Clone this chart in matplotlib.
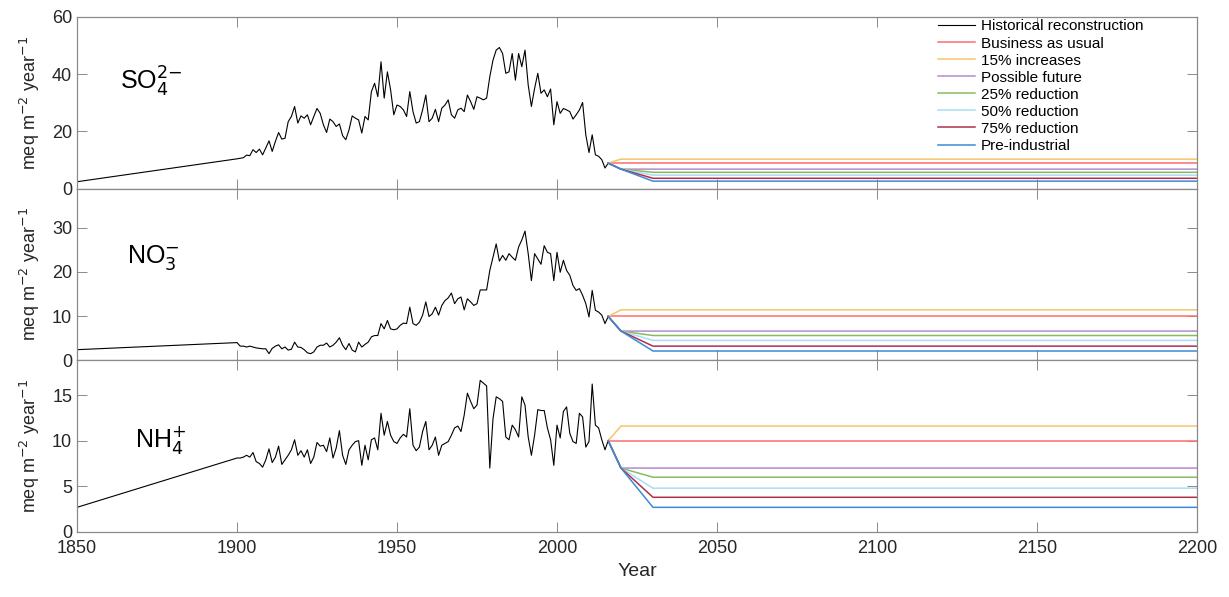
import numpy as np
import matplotlib
matplotlib.use("Agg")
from matplotlib import pyplot as plt

plt.rcParams['font.family'] = ['Liberation Sans', 'DejaVu Sans']

# historical reconstruction, 1850 start value + annual 1900-2016
start_year = 1850
years = np.arange(1900, 2017)

so4_1850 = 2.4
so4_hist = [10.4, 10.6, 10.8, 11.7, 11.5, 13.6, 12.6, 13.8, 11.8, 14.2,
            16.7, 13.0, 16.5, 19.6, 17.3, 17.6, 23.4, 25.2, 28.7, 22.9,
            25.4, 24.6, 25.8, 22.3, 25.2, 28.0, 26.3, 22.3, 19.6, 24.3,
            23.4, 21.7, 22.6, 18.5, 17.1, 20.5, 25.4, 24.6, 24.0, 19.4,
            25.2, 24.0, 33.9, 36.8, 32.1, 44.3, 31.6, 40.8, 34.5, 25.8,
            29.2, 28.7, 27.5, 25.2, 33.9, 26.9, 22.9, 23.4, 27.5, 32.7,
            23.4, 24.6, 27.7, 23.4, 28.1, 29.2, 31.0, 25.8, 24.6, 27.5,
            28.1, 26.9, 32.7, 30.4, 27.7, 32.1, 31.6, 31.0, 31.6, 39.1,
            44.9, 48.4, 49.3, 47.2, 40.3, 40.8, 47.2, 37.9, 47.2, 42.6,
            48.4, 36.2, 28.7, 35.0, 40.3, 33.3, 34.5, 32.1, 34.8, 22.3,
            30.4, 26.3, 28.0, 27.5, 26.9, 24.3, 25.8, 27.5, 30.1, 18.8,
            12.6, 18.8, 11.8, 11.3, 10.1, 7.2, 8.9]

no3_1850 = 2.4
no3_hist = [4.0, 3.2, 3.2, 3.0, 3.2, 3.0, 2.8, 2.7, 2.6, 2.6,
            1.5, 2.7, 3.2, 3.5, 2.6, 3.0, 2.3, 2.5, 4.1, 3.0,
            2.9, 2.4, 1.7, 1.5, 1.9, 3.0, 3.4, 3.4, 3.9, 3.0,
            3.4, 4.1, 5.1, 3.4, 2.4, 3.8, 2.3, 1.9, 4.1, 3.0,
            3.6, 4.1, 5.3, 5.6, 5.6, 8.3, 7.1, 9.0, 7.1, 6.9,
            7.1, 7.9, 8.4, 8.3, 12.0, 8.3, 7.9, 8.6, 10.2, 13.2,
            9.9, 10.5, 12.0, 10.2, 12.4, 13.5, 14.1, 15.2, 12.8, 13.9,
            14.3, 11.4, 13.9, 13.2, 12.4, 12.8, 15.9, 15.9, 15.9, 20.3,
            23.3, 26.3, 22.4, 23.7, 22.6, 24.1, 23.3, 22.6, 25.6, 27.2,
            29.2, 24.1, 18.0, 24.1, 22.9, 21.7, 25.9, 24.4, 24.1, 18.0,
            24.4, 19.9, 22.6, 20.3, 19.2, 16.9, 15.8, 16.2, 14.7, 12.8,
            9.8, 15.8, 11.3, 10.9, 10.2, 8.3, 9.9]

nh4_1850 = 2.7
nh4_hist = [8.1, 8.1, 8.2, 8.4, 8.2, 8.7, 7.7, 7.5, 7.1, 7.9,
            9.1, 7.6, 8.2, 9.4, 7.4, 7.9, 8.4, 9.0, 10.1, 8.4,
            8.9, 8.2, 9.0, 7.5, 8.2, 9.8, 9.4, 9.5, 8.8, 10.3,
            8.1, 9.2, 11.1, 8.4, 7.4, 9.0, 9.5, 9.9, 10.0, 7.3,
            9.5, 7.9, 10.1, 10.3, 9.0, 13.0, 10.6, 12.1, 10.6, 9.9,
            9.7, 10.3, 10.7, 10.4, 13.5, 9.5, 8.9, 9.3, 11.0, 12.1,
            9.0, 9.5, 10.4, 8.4, 9.5, 9.7, 9.9, 10.6, 11.4, 11.6,
            11.0, 12.8, 15.2, 14.3, 13.5, 13.9, 16.6, 16.3, 16.0, 7.0,
            12.4, 14.8, 14.6, 14.3, 10.4, 10.1, 11.7, 11.2, 10.4, 14.8,
            13.9, 10.4, 8.4, 10.6, 13.4, 13.3, 13.3, 11.4, 10.1, 7.3,
            11.7, 10.3, 13.2, 13.7, 10.8, 9.9, 9.7, 13.0, 12.6, 9.3,
            9.9, 16.2, 11.7, 11.4, 10.1, 9.0, 10.0]

# future scenarios: values at 2016, 2020, 2030, 2200
scen_years = [2016, 2020, 2030, 2200]
scen_names = ["Business as usual", "15% increases", "Possible future",
              "25% reduction", "50% reduction", "75% reduction", "Pre-industrial"]
scen_colors = ["#ff6e6e", "#f6c46a", "#b48ad0", "#86bd5c", "#a9dcf5", "#b0304a", "#3a8ad8"]

so4_scen = [[8.9, 8.9, 8.9, 8.9],
            [8.9, 10.3, 10.3, 10.3],
            [8.9, 6.8, 6.8, 6.8],
            [8.9, 6.8, 5.7, 5.7],
            [8.9, 6.8, 4.7, 4.7],
            [8.9, 6.8, 3.6, 3.6],
            [8.9, 6.8, 2.6, 2.6]]
no3_scen = [[9.9, 9.9, 9.9, 9.9],
            [9.9, 11.4, 11.4, 11.4],
            [9.9, 6.6, 6.6, 6.6],
            [9.9, 6.6, 5.6, 5.6],
            [9.9, 6.6, 4.5, 4.5],
            [9.9, 6.6, 3.2, 3.2],
            [9.9, 6.6, 2.1, 2.1]]
nh4_scen = [[10.0, 10.0, 10.0, 10.0],
            [10.0, 11.6, 11.6, 11.6],
            [10.0, 7.0, 7.0, 7.0],
            [10.0, 7.0, 6.0, 6.0],
            [10.0, 7.0, 4.8, 4.8],
            [10.0, 7.0, 3.8, 3.8],
            [10.0, 7.0, 2.7, 2.7]]

ions = [r"SO$_4^{2\mathrm{-}}$", r"NO$_3^{\mathrm{-}}$", r"NH$_4^{+}$"]
ion_pos = [(0.038, 0.62), (0.045, 0.6), (0.052, 0.535)]
ylims = [60, 38.8, 18.8]
yticks = [[0, 20, 40, 60], [0, 10, 20, 30], [0, 5, 10, 15]]

fig = plt.figure(figsize=(12.29, 5.97), dpi=100)
left, width = 77 / 1229, 1120 / 1229
h = 171.7 / 597
bottom0 = 1 - 532 / 597

hist_all = [(so4_1850, so4_hist), (no3_1850, no3_hist), (nh4_1850, nh4_hist)]
scen_all = [so4_scen, no3_scen, nh4_scen]

axes = []
for i in range(3):
    ax = fig.add_axes([left, bottom0 + (2 - i) * h, width, h])
    axes.append(ax)
    v1850, hist = hist_all[i]
    ax.plot([start_year] + list(years), [v1850] + hist, color="black", lw=0.8,
            label="Historical reconstruction")
    for name, col, vals in zip(scen_names, scen_colors, scen_all[i]):
        ax.plot(scen_years, vals, color=col, lw=1.1, label=name)
    ax.set_xlim(1850, 2200)
    ax.set_ylim(0, ylims[i])
    ax.set_yticks(yticks[i])
    ax.set_xticks(np.arange(1850, 2201, 50))
    ax.tick_params(direction="in", top=True, right=True, length=7, width=0.7,
                   color="#8a8a8a", labelsize=13, labelcolor="#262626")
    ax.tick_params(axis="x", pad=6)
    for s in ax.spines.values():
        s.set_color("#8a8a8a")
        s.set_linewidth(0.9)
    ax.set_ylabel(r"meq m$^{-2}$ year$^{-1}$", fontsize=13, color="#262626")
    ax.yaxis.set_label_coords(-0.031, 0.5)
    ax.text(ion_pos[i][0], ion_pos[i][1], ions[i], transform=ax.transAxes,
            fontsize=18, va="center", ha="left")
    if i < 2:
        ax.tick_params(labelbottom=False)

axes[2].set_xlabel("Year", fontsize=14, color="#262626")

axes[0].legend(loc="upper left", bbox_to_anchor=(0.769, 0.985), frameon=False,
               fontsize=11, handlelength=2.4, handletextpad=0.4,
               labelspacing=0.2, borderpad=0, borderaxespad=0)

fig.savefig("out.png", dpi=100)
